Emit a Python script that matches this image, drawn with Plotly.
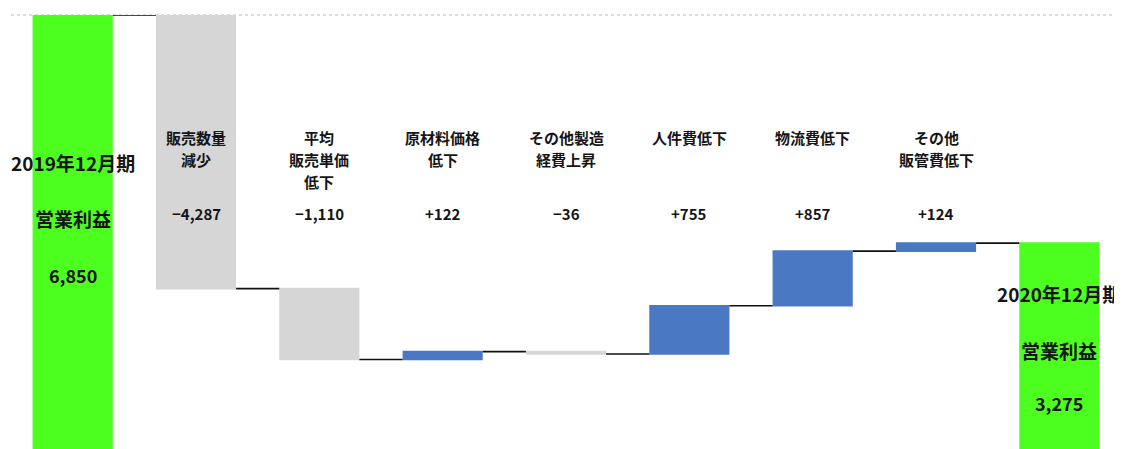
import plotly.graph_objects as go

# ---- data ----
categories = ["2019年12月期 営業利益", "販売数量減少", "平均販売単価低下", "原材料価格低下",
              "その他製造経費上昇", "人件費低下", "物流費低下", "その他販管費低下",
              "2020年12月期 営業利益"]
values = [6850, -4287, -1110, 122, -36, 755, 857, 124, 3275]
measures = ["absolute", "relative", "relative", "relative", "relative",
            "relative", "relative", "relative", "total"]
name_labels = [[], ["販売数量", "減少"], ["平均", "販売単価", "低下"], ["原材料価格", "低下"],
               ["その他製造", "経費上昇"], ["人件費低下"], ["物流費低下"], ["その他", "販管費低下"], []]
total_period_labels = ["2019年12月期", "2020年12月期"]
total_name_label = "営業利益"

FONT = "Noto Sans CJK JP"
TXT = "#151515"

fig = go.Figure(go.Waterfall(
    x=list(range(len(categories))),
    y=values,
    measure=measures,
    width=0.65,
    increasing=dict(marker=dict(color="#4A78C2")),
    decreasing=dict(marker=dict(color="#D6D6D6")),
    totals=dict(marker=dict(color="#4DFF1F")),
    connector=dict(mode="between", line=dict(color="#111111", width=1.6)),
    hoverinfo="skip",
))

def fmt_delta(v):
    return f"{v:+,}".replace("-", "−")

# the page body has an 8px margin; the plot area spans window rows 15..449
TOP, BOT = 15, 449
def py(px):
    return (BOT - px) / (BOT - TOP)

ann = []
for i, (lines, v, m) in enumerate(zip(name_labels, values, measures)):
    if m == "relative":
        for j, line in enumerate(lines):
            ann.append(dict(x=i, y=py(137 + 22 * j), xref="x", yref="paper", text=line,
                            showarrow=False, yanchor="middle", xanchor="center", borderpad=0,
                            font=dict(family=FONT, size=15, color=TXT, weight="bold")))
        ann.append(dict(x=i, y=py(213), xref="x", yref="paper", text=fmt_delta(v), showarrow=False,
                        yanchor="middle", xanchor="center",
                        font=dict(family=FONT, size=15, color=TXT, weight="bold")))

totals_idx = [0, len(values) - 1]
rows = [(163, 218, 275), (293, 350, 403)]
for k, i in enumerate(totals_idx):
    r1, r2, r3 = rows[k]
    for txt, yy, sz in [(total_period_labels[k], r1, 19), (total_name_label, r2, 19),
                        (f"{values[i]:,}", r3, 18)]:
        ann.append(dict(x=i, y=py(yy), xref="x", yref="paper", text=txt, showarrow=False,
                        yanchor="middle", xanchor="center",
                        font=dict(family=FONT, size=sz, color=TXT, weight="bold")))

fig.update_layout(
    width=1114, height=441,
    margin=dict(l=3, r=1, t=7, b=0),
    paper_bgcolor="white", plot_bgcolor="white",
    showlegend=False,
    xaxis=dict(visible=False, range=[-0.5, len(categories) - 0.5]),
    yaxis=dict(visible=False, range=[50, 6850]),
    annotations=ann,
    shapes=[dict(type="line", xref="paper", yref="paper", x0=0, x1=1, y0=1, y1=1,
                 line=dict(color="#BBBBBB", width=1.2, dash="dot"), layer="below")],
)

fig.write_html("out.html")
